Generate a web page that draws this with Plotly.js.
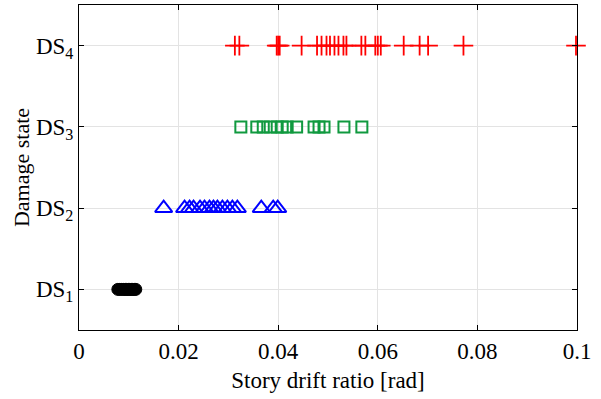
<!DOCTYPE html>
<html>
<head>
<meta charset="utf-8">
<script src="https://cdn.plot.ly/plotly-3.0.1.min.js"></script>
<style>html,body{margin:0;padding:0;background:#fff;}#chart{width:601px;height:399px;}</style>
</head>
<body>
<div id="chart"></div>
<script>
// Story drift ratio [rad] at each damage state
const ds1 = [0.0078, 0.0082, 0.0086, 0.0090, 0.0093, 0.0096, 0.0099, 0.0102, 0.0105, 0.0108, 0.0111, 0.0114];
const ds2 = [0.0170, 0.0212, 0.0222, 0.0230, 0.0243, 0.0252, 0.0262, 0.0270, 0.0278, 0.0288, 0.0298, 0.0308, 0.0318, 0.0366, 0.0390, 0.0399];
const ds3 = [0.0325, 0.0357, 0.0370, 0.0384, 0.0398, 0.0408, 0.0418, 0.0437, 0.0472, 0.0482, 0.0492, 0.0532, 0.0568];
const ds4 = [0.0313, 0.0322, 0.0397, 0.0400, 0.0403, 0.0447, 0.0478, 0.0487, 0.0497, 0.0504, 0.0513, 0.0521, 0.0531, 0.0537, 0.0567, 0.0575, 0.0595, 0.0600, 0.0606, 0.0652, 0.0684, 0.0701, 0.0772, 0.0998];
const levels = [1, 2, 3, 4];
const levelLabels = ['DS<sub>1</sub>', 'DS<sub>2</sub>', 'DS<sub>3</sub>', 'DS<sub>4</sub>'];

function rep(arr, v) { return arr.map(() => v); }

const traces = [
  {x: ds1, y: rep(ds1, levels[0]), mode: 'markers', type: 'scatter', cliponaxis: false,
   marker: {symbol: 'circle', size: 12, color: '#000000', line: {color: '#000000', width: 1}}},
  {x: ds2, y: rep(ds2, levels[1]), mode: 'markers', type: 'scatter', cliponaxis: false,
   marker: {symbol: 'triangle-up-open', size: 15, color: '#0000ff', line: {color: '#0000ff', width: 2}}},
  {x: ds3, y: rep(ds3, levels[2]), mode: 'markers', type: 'scatter', cliponaxis: false,
   marker: {symbol: 'square-open', size: 11, color: '#10993f', line: {color: '#10993f', width: 2}}},
  {x: ds4, y: rep(ds4, levels[3]), mode: 'markers', type: 'scatter', cliponaxis: false,
   marker: {symbol: 'cross-thin-open', size: 14, color: '#ff0000', line: {color: '#ff0000', width: 1.8}}}
];

const fam = '"Liberation Serif", "Times New Roman", serif';
const tickFont = {family: fam, size: 23, color: '#000'};
const xTitleFont = {family: fam, size: 23, color: '#000'};
const yTitleFont = {family: fam, size: 22, color: '#000'};

const layout = {
  width: 601, height: 399,
  margin: {l: 79, r: 24, t: 5, b: 69},
  paper_bgcolor: '#fff', plot_bgcolor: '#fff',
  showlegend: false,
  font: tickFont,
  xaxis: {
    range: [0, 0.1], dtick: 0.02, tick0: 0,
    showgrid: true, gridcolor: '#e3e3e3', gridwidth: 1,
    zeroline: false,
    showline: true, linecolor: '#000', linewidth: 1, mirror: 'ticks',
    ticks: 'inside', ticklen: 5, tickcolor: '#000',
    tickfont: tickFont,
    title: {text: 'Story drift ratio [rad]', font: xTitleFont, standoff: 9}
  },
  yaxis: {
    range: [0.5, 4.5],
    tickmode: 'array', tickvals: levels, ticktext: levelLabels,
    showgrid: true, gridcolor: '#e3e3e3', gridwidth: 1,
    zeroline: false,
    showline: true, linecolor: '#000', linewidth: 1, mirror: 'ticks',
    ticks: 'inside', ticklen: 5, tickcolor: '#000',
    tickfont: tickFont,
    title: {text: 'Damage state', font: yTitleFont, standoff: 0}
  }
};

Plotly.newPlot('chart', traces, layout, {staticPlot: true, displayModeBar: false});
</script>
</body>
</html>
